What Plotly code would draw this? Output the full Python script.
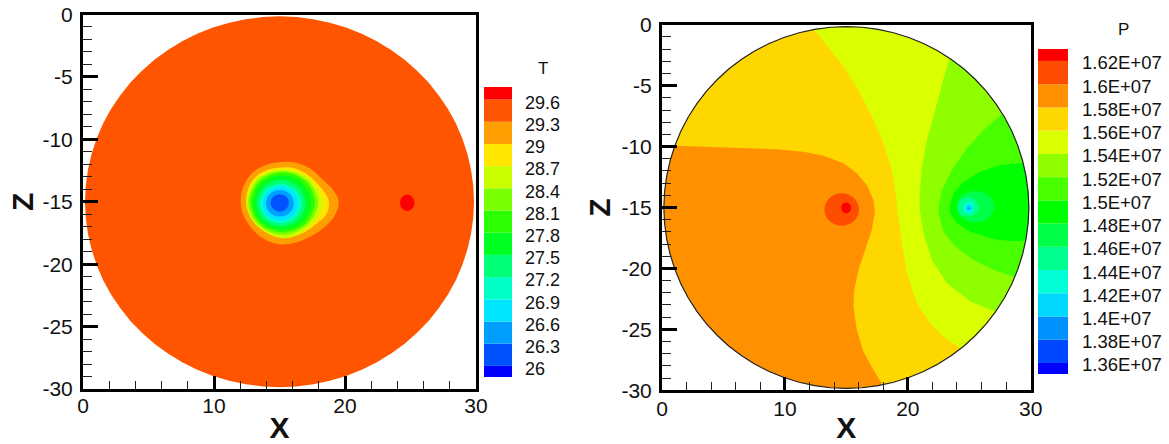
import plotly.graph_objects as go

# ---------- shared disk outline ----------
rim_x = [29.85,29.79,29.62,29.34,28.95,28.46,27.86,27.16,26.38,25.50,24.55,23.52,22.43,21.28,20.08,18.84,17.58,16.29,
         15.00,13.71,12.42,11.16,9.92,8.72,7.57,6.48,5.45,4.50,3.62,2.84,2.14,1.54,1.05,0.66,0.38,0.21,
         0.15,0.21,0.38,0.66,1.05,1.54,2.14,2.84,3.62,4.50,5.45,6.48,7.57,8.72,9.92,11.16,12.42,13.71,
         15.00,16.29,17.58,18.84,20.08,21.28,22.43,23.52,24.55,25.50,26.38,27.16,27.86,28.46,28.95,29.34,29.62,29.79]
rim_z = [-15.00,-13.71,-12.42,-11.16,-9.92,-8.72,-7.57,-6.48,-5.45,-4.50,-3.62,-2.84,-2.14,-1.54,-1.05,-0.66,-0.38,-0.21,
         -0.15,-0.21,-0.38,-0.66,-1.05,-1.54,-2.14,-2.84,-3.62,-4.50,-5.45,-6.48,-7.57,-8.72,-9.92,-11.16,-12.42,-13.71,
         -15.00,-16.29,-17.58,-18.84,-20.08,-21.28,-22.43,-23.52,-24.55,-25.50,-26.38,-27.16,-27.86,-28.46,-28.95,-29.34,-29.62,-29.79,
         -29.85,-29.79,-29.62,-29.34,-28.95,-28.46,-27.86,-27.16,-26.38,-25.50,-24.55,-23.52,-22.43,-21.28,-20.08,-18.84,-17.58,-16.29]

# ---------- T panel: level bands, colours, contour outlines ----------
t_labels = ["29.6","29.3","29","28.7","28.4","28.1","27.8","27.5","27.2","26.9","26.6","26.3","26"]
t_levels = [29.6,29.3,29.0,28.7,28.4,28.1,27.8,27.5,27.2,26.9,26.6,26.3,26.0]
t_edges = [25.85,26.0,26.3,26.6,26.9,27.2,27.5,27.8,28.1,28.4,28.7,29.0,29.3,29.6,29.77]
t_colors = ["#0000ff","#0052ff","#009eff","#00e6ff","#00ffc4","#00ff77","#00ff22","#2bff00","#7aff00","#c7ff00","#ffe600","#ff9e00","#ff5500","#ff0000"]

t_hot_x = [25.30,25.14,24.75,24.36,24.20,24.36,24.75,25.14]
t_hot_z = [-15.08,-14.61,-14.41,-14.61,-15.08,-15.55,-15.75,-15.55]

t_contours = [
 ("#ff9e00",[12.04,12.24,12.88,13.77,14.79,16.19,17.33,18.35,19.11,19.52,19.24,18.48,17.33,16.19,14.91,13.77,12.88,12.24],
            [-15.0,-13.80,-12.73,-12.14,-11.85,-11.85,-12.33,-13.27,-14.07,-15.0,-16.07,-17.01,-17.81,-18.29,-18.40,-17.95,-17.14,-16.07]),
 ("#ffe600",[12.45,12.62,13.13,14.02,15.17,16.19,17.20,18.10,18.65,18.78,18.55,17.84,16.82,15.55,14.28,13.26,12.70],
            [-15.0,-13.94,-13.05,-12.47,-12.25,-12.33,-12.87,-13.80,-14.60,-15.14,-16.07,-16.74,-17.49,-17.87,-17.60,-16.88,-16.07]),
 ("#c7ff00",[18.27,17.35,15.4,13.3,12.49,13.3,15.4,17.4],[-15.1,-13.2,-12.39,-13.1,-15.1,-16.95,-17.93,-16.9]),
 ("#7aff00",[17.96,17.15,15.29,13.4,12.62,13.4,15.29,17.15],[-15.08,-13.3,-12.53,-13.2,-15.08,-16.85,-17.66,-16.8]),
 ("#2bff00",[17.71,16.98,15.25,13.52,12.80,13.52,15.25,16.98],[-15.05,-13.36,-12.66,-13.36,-15.05,-16.74,-17.44,-16.74]),
 ("#00ff22",[17.40,16.75,15.2,13.65,13.0,13.65,15.2,16.75],[-15.08,-13.53,-12.90,-13.53,-15.08,-16.63,-17.26,-16.63]),
 ("#00ff77",[16.99,16.44,15.12,13.80,13.25,13.80,15.12,16.44],[-15.12,-13.80,-13.25,-13.80,-15.12,-16.44,-16.99,-16.44]),
 ("#00ffc4",[16.69,16.22,15.10,13.98,13.51,13.98,15.10,16.22],[-15.15,-14.03,-13.57,-14.03,-15.15,-16.27,-16.73,-16.27]),
 ("#00e6ff",[16.44,16.04,15.07,14.10,13.70,14.10,15.07,16.04],[-15.15,-14.18,-13.78,-14.18,-15.15,-16.12,-16.52,-16.12]),
 ("#009eff",[16.10,15.79,15.03,14.27,13.96,14.27,15.03,15.79],[-15.12,-14.36,-14.05,-14.36,-15.12,-15.88,-16.19,-15.88]),
 ("#0052ff",[15.72,15.51,15.02,14.53,14.32,14.53,15.02,15.51],[-15.09,-14.60,-14.40,-14.60,-15.09,-15.58,-15.79,-15.58]),
]

# ---------- P panel ----------
p_labels = ["1.62E+07","1.6E+07","1.58E+07","1.56E+07","1.54E+07","1.52E+07","1.5E+07","1.48E+07","1.46E+07","1.44E+07","1.42E+07","1.4E+07","1.38E+07","1.36E+07"]
p_levels = [1.62e7,1.60e7,1.58e7,1.56e7,1.54e7,1.52e7,1.50e7,1.48e7,1.46e7,1.44e7,1.42e7,1.40e7,1.38e7,1.36e7]
p_edges = [1.3505e7,1.36e7,1.38e7,1.40e7,1.42e7,1.44e7,1.46e7,1.48e7,1.50e7,1.52e7,1.54e7,1.56e7,1.58e7,1.60e7,1.62e7,1.6303e7]
p_colors = ["#0000ff","#0048ff","#0091ff","#00d7ff","#00ffd7","#00ff91","#00ff48","#00ff00","#48ff00","#8fff00","#d9ff00","#ffd700","#ff9100","#ff4d00","#ff0000"]

# boundary curves that end on the rim; rim indices say which stretch closes each band
p_bands = [
 ("#ffd700",[1.04,4.72,9.34,11.51,13.14,14.77,15.85,16.67,17.2,17.32,17.07,16.53,15.99,15.64,15.58,15.85,16.39,17.21,17.95],
            [-9.93,-10.06,-10.22,-10.42,-10.75,-11.37,-12.19,-13.15,-14.38,-15.34,-16.84,-18.48,-20.12,-21.76,-23.13,-25.05,-26.83,-28.33,-29.55],57,31),
 ("#d9ff00",[12.32,13.41,14.77,16.12,17.21,18.02,18.7,19.11,19.16,19.44,19.93,20.74,21.82,22.91,24.27],
            [-0.35,-1.67,-3.44,-5.63,-7.82,-9.73,-11.92,-14.38,-15.34,-17.39,-20.39,-22.85,-24.5,-25.6,-26.55],62,19),
 ("#8fff00",[23.4,22.91,22.23,21.55,21.15,20.93,21.0,21.28,21.96,23.18,25.08,27.12],
            [-2.76,-4.4,-7.0,-9.46,-11.65,-14.38,-15.34,-17.11,-19.3,-21.2,-22.72,-23.54],66,10),
 ("#48ff00",[27.68,26.17,24.81,23.59,22.78,22.5,22.5,22.91,23.86,25.35,26.98,28.7],
            [-7.3,-8.64,-10.14,-11.92,-13.56,-14.93,-15.47,-16.98,-18.21,-19.3,-20.12,-20.7],68,6),
 ("#00ff00",[29.42,27.52,25.9,24.54,23.72,23.4,23.45,24.0,25.08,26.98,28.61,29.6],
            [-11.32,-11.51,-12.06,-12.88,-13.83,-14.93,-15.47,-16.29,-16.98,-17.6,-17.77,-17.7],71,2),
]
p_blobs = [
 ("#ff4d00",[16.02,15.91,15.61,15.16,14.62,14.08,13.63,13.33,13.22,13.33,13.63,14.08,14.62,15.16,15.61,15.91],
            [-15.16,-14.65,-14.22,-13.93,-13.83,-13.93,-14.22,-14.65,-15.16,-15.67,-16.10,-16.39,-16.49,-16.39,-16.10,-15.67]),
 ("#ff0000",[15.39,15.27,14.98,14.69,14.57,14.69,14.98,15.27],[-15.03,-14.72,-14.59,-14.72,-15.03,-15.34,-15.47,-15.34]),
 ("#00ff48",[23.99,24.21,24.67,25.49,26.30,26.84,27.03,26.84,26.30,25.49,24.67,24.21],
            [-14.93,-14.25,-13.84,-13.64,-13.84,-14.33,-14.93,-15.53,-16.02,-16.24,-16.02,-15.61]),
 ("#00ff91",[24.05,24.27,24.89,25.49,25.76,25.49,24.89,24.27],[-14.98,-14.38,-14.16,-14.38,-14.98,-15.55,-15.67,-15.55]),
 ("#00ffd7",[24.54,24.67,24.97,25.27,25.40,25.27,24.97,24.67],[-15.0,-14.66,-14.52,-14.66,-15.0,-15.34,-15.48,-15.34]),
 ("#00d7ff",[24.73,24.80,24.97,25.15,25.22,25.15,24.97,24.80],[-15.04,-14.83,-14.74,-14.83,-15.04,-15.25,-15.34,-15.25]),
 ("#0091ff",[24.81,24.97,25.13,24.97],[-15.07,-15.01,-15.07,-15.13]),
]

x_ticks = [0,10,20,30]
x_tick_labels = ["0","10","20","30"]
z_ticks = [0,-5,-10,-15,-20,-25,-30]
z_tick_labels = ["0","-5","-10","-15","-20","-25","-30"]

FONT = "Liberation Sans, Arial, sans-serif"
W, H = 1169, 444


def arc(a, b):
    """Walk the typed rim list from index a forward to index b."""
    n = len(rim_x)
    xs, zs, i = [], [], a
    while True:
        xs.append(rim_x[i]); zs.append(rim_z[i])
        if i == b:
            return xs, zs
        i = (i + 1) % n


def area(fig, color, xs, zs, xa, ya, smooth=False):
    line = dict(width=0, color=color)
    if smooth:
        line.update(shape="spline", smoothing=1.0)
    fig.add_trace(go.Scatter(x=list(xs) + [xs[0]], y=list(zs) + [zs[0]], mode="lines", fill="toself",
                             fillcolor=color, line=line, xaxis=xa, yaxis=ya, showlegend=False, hoverinfo="skip"))


fig = go.Figure()

# T panel
area(fig, "#ff5500", rim_x, rim_z, "x", "y")
area(fig, "#ff0000", t_hot_x, t_hot_z, "x", "y", True)
for c, xs, zs in t_contours:
    area(fig, c, xs, zs, "x", "y", True)

# P panel
area(fig, "#ff9100", rim_x, rim_z, "x2", "y2")
for c, xs, zs, a, b in p_bands:
    ax, az = arc(a, b)
    area(fig, c, xs + ax, zs + az, "x2", "y2")
for c, xs, zs in p_blobs:
    area(fig, c, xs, zs, "x2", "y2", True)
fig.add_trace(go.Scatter(x=rim_x + rim_x[:1], y=rim_z + rim_z[:1], mode="lines", line=dict(color="#222222", width=1.2),
                         xaxis="x2", yaxis="y2", showlegend=False, hoverinfo="skip"))


def legend_bars(edges, colors, xa, ya):
    fig.add_trace(go.Bar(x=[0] * len(colors), y=[edges[i + 1] - edges[i] for i in range(len(colors))], base=edges[:-1],
                         width=1, marker=dict(color=colors, line=dict(width=0)), xaxis=xa, yaxis=ya,
                         showlegend=False, hoverinfo="skip"))


legend_bars(t_edges, t_colors, "x3", "y3")
legend_bars(p_edges, p_colors, "x4", "y4")


def dom_x(a, b):
    return [a / W, b / W]


def dom_y(top, bottom):
    return [1 - bottom / H, 1 - top / H]


def main_x(dom, anchor, size, label_gap, standoff):
    return dict(domain=dom, anchor=anchor, range=[0, 30], tickvals=x_ticks, ticktext=x_tick_labels, ticks="inside", ticklen=13,
                tickwidth=3, tickcolor="black", showline=True, linewidth=3, linecolor="black", mirror=True, showgrid=False,
                zeroline=False, automargin=False, tickfont=dict(family=FONT, size=size, color="#111111"), ticklabelstandoff=label_gap,
                minor=dict(ticks="inside", dtick=2, tick0=0, ticklen=8, tickwidth=1, tickcolor="#222222", showgrid=False),
                title=dict(text="X", standoff=standoff, font=dict(family=FONT, size=30, color="#111111", weight=700)))


def main_y(dom, anchor, size, label_gap, standoff):
    return dict(domain=dom, anchor=anchor, range=[-30, 0], tickvals=z_ticks, ticktext=z_tick_labels, ticks="inside", ticklen=15,
                tickwidth=3, tickcolor="black", showline=True, linewidth=3, linecolor="black", mirror=True, showgrid=False,
                zeroline=False, automargin=False, tickfont=dict(family=FONT, size=size, color="#111111"), ticklabelstandoff=label_gap,
                minor=dict(ticks="inside", dtick=1, tick0=0, ticklen=9, tickwidth=1, tickcolor="#222222", showgrid=False),
                title=dict(text="Z", standoff=standoff, font=dict(family=FONT, size=30, color="#111111", weight=700)))


def bar_x(dom, anchor):
    return dict(domain=dom, anchor=anchor, range=[-0.5, 0.5], visible=False, fixedrange=True, automargin=False)


def bar_y(dom, anchor, rng, vals, labels, size, standoff, shift):
    return dict(domain=dom, anchor=anchor, range=rng, side="right", tickvals=vals, ticktext=labels, ticks="", showline=False,
                showgrid=False, zeroline=False, automargin=False, tickfont=dict(family=FONT, size=size, color="#111111"),
                ticklabelstandoff=standoff, ticklabelshift=shift)


fig.update_layout(
    width=W, height=H, margin=dict(l=0, r=0, t=0, b=0), paper_bgcolor="white", plot_bgcolor="white",
    showlegend=False, barmode="overlay",
    xaxis=main_x(dom_x(83, 476), "y", 21, -4, 1),
    yaxis=main_y(dom_y(14.5, 389), "x", 21, 3, 0),
    xaxis2=main_x(dom_x(662, 1030.7), "y2", 21, -3, 4),
    yaxis2=main_y(dom_y(24.7, 390.3), "x2", 21, 3, 2),
    xaxis3=bar_x(dom_x(484, 512), "y3"),
    yaxis3=bar_y(dom_y(87, 377), "x3", [t_edges[0], t_edges[-1]], t_levels, t_labels, 18, 12, 3),
    xaxis4=bar_x(dom_x(1038, 1068), "y4"),
    yaxis4=bar_y(dom_y(49, 374), "x4", [p_edges[0], p_edges[-1]], p_levels, p_labels, 18.5, 13, 2),
    annotations=[
        dict(text="T", x=543 / W, y=1 - 69 / H, xref="paper", yref="paper", showarrow=False, xanchor="center", yanchor="middle",
             font=dict(family=FONT, size=17, color="#111111")),
        dict(text="P", x=1123 / W, y=1 - 30 / H, xref="paper", yref="paper", showarrow=False, xanchor="center", yanchor="middle",
             font=dict(family=FONT, size=17, color="#111111")),
    ],
)

fig.write_html("out.html", config=dict(displayModeBar=False),
               post_script="document.body.style.margin='0';")
